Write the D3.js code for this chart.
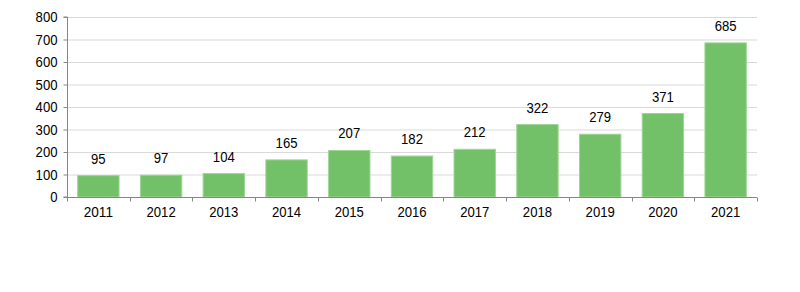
<!DOCTYPE html>
<html>
<head>
<meta charset="utf-8">
<script src="https://cdn.jsdelivr.net/npm/d3@7"></script>
<style>
  body { margin: 0; background: #fff; }
  svg text { font-family: "Liberation Sans", Arial, sans-serif; fill: #000; }
</style>
</head>
<body>
<div id="chart"></div>
<script>
// data
let years = ['2011', '2012', '2013', '2014', '2015', '2016', '2017', '2018', '2019', '2020', '2021']
let values = [95, 97, 104, 165, 207, 182, 212, 322, 279, 371, 685]
let yTicks = [0, 100, 200, 300, 400, 500, 600, 700, 800]

let margin = { top: 17, left: 67, right: 43, bottom: 95 }
let width = 800 - margin.left - margin.right
let height = 292 - margin.top - margin.bottom

// text in the original is tall and a bit narrow
let fontSize = 14.5
let charWidth = 7.3

let svg = d3.select('#chart')
  .append('svg')
  .attr('width', 800)
  .attr('height', 292)

let g = svg.append('g')
  .attr('transform', `translate(${margin.left},${margin.top})`)

let xPositionScale = d3.scaleBand()
  .domain(years)
  .range([0, width])
  .paddingInner(0.34)
  .paddingOuter(0.17)

let yPositionScale = d3.scaleLinear()
  .domain([0, 800])
  .range([height, 0])

// gridlines
g.selectAll('.grid')
  .data(yTicks.filter(d => d > 0))
  .enter()
  .append('line')
  .attr('class', 'grid')
  .attr('x1', 0)
  .attr('x2', width)
  .attr('y1', d => yPositionScale(d) + 0.5)
  .attr('y2', d => yPositionScale(d) + 0.5)
  .attr('stroke', '#d9d9d9')
  .attr('stroke-width', 1)

// bars
g.selectAll('.bar')
  .data(values)
  .enter()
  .append('rect')
  .attr('class', 'bar')
  .attr('x', (d, i) => xPositionScale(years[i]))
  .attr('y', d => yPositionScale(d))
  .attr('width', xPositionScale.bandwidth())
  .attr('height', d => height - yPositionScale(d))
  .attr('fill', '#72c068')
  .attr('stroke', '#9fd696')
  .attr('stroke-width', 1)

// value labels
g.selectAll('.label')
  .data(values)
  .enter()
  .append('text')
  .attr('class', 'label')
  .attr('x', (d, i) => xPositionScale(years[i]) + xPositionScale.bandwidth() / 2)
  .attr('y', d => yPositionScale(d) - 12)
  .attr('text-anchor', 'middle')
  .text(d => d)

// y axis
let yAxis = d3.axisLeft(yPositionScale)
  .tickValues(yTicks)
  .tickSize(4)
  .tickPadding(6)
g.append('g')
  .attr('class', 'axis y-axis')
  .attr('transform', 'translate(0.5,0)')
  .call(yAxis)

// x axis with ticks on band boundaries
let xAxisG = g.append('g')
  .attr('class', 'axis x-axis')
  .attr('transform', `translate(0,${height + 0.5})`)

xAxisG.append('line')
  .attr('x1', 0)
  .attr('x2', width)
  .attr('stroke', '#868686')

xAxisG.selectAll('.xtick')
  .data(d3.range(years.length + 1))
  .enter()
  .append('line')
  .attr('class', 'xtick')
  .attr('x1', i => Math.round(i * width / years.length) + 0.5)
  .attr('x2', i => Math.round(i * width / years.length) + 0.5)
  .attr('y1', 0)
  .attr('y2', 4)
  .attr('stroke', '#868686')

xAxisG.selectAll('.xlabel')
  .data(years)
  .enter()
  .append('text')
  .attr('class', 'xlabel')
  .attr('x', d => xPositionScale(d) + xPositionScale.bandwidth() / 2)
  .attr('y', 19)
  .attr('text-anchor', 'middle')
  .text(d => d)

svg.selectAll('.y-axis path').attr('stroke', '#868686')
svg.selectAll('.y-axis .tick line').attr('stroke', '#868686')
svg.selectAll('.y-axis text')
  .attr('font-family', '"Liberation Sans", Arial, sans-serif')
  .attr('fill', '#000')
svg.selectAll('.y-axis .domain').attr('d', `M-4,${height}H0V0H-4`)

// same size and squeeze for every text
svg.selectAll('text')
  .attr('font-size', fontSize)
  .attr('textLength', function() { return this.textContent.length * charWidth })
  .attr('lengthAdjust', 'spacingAndGlyphs')
</script>
</body>
</html>
